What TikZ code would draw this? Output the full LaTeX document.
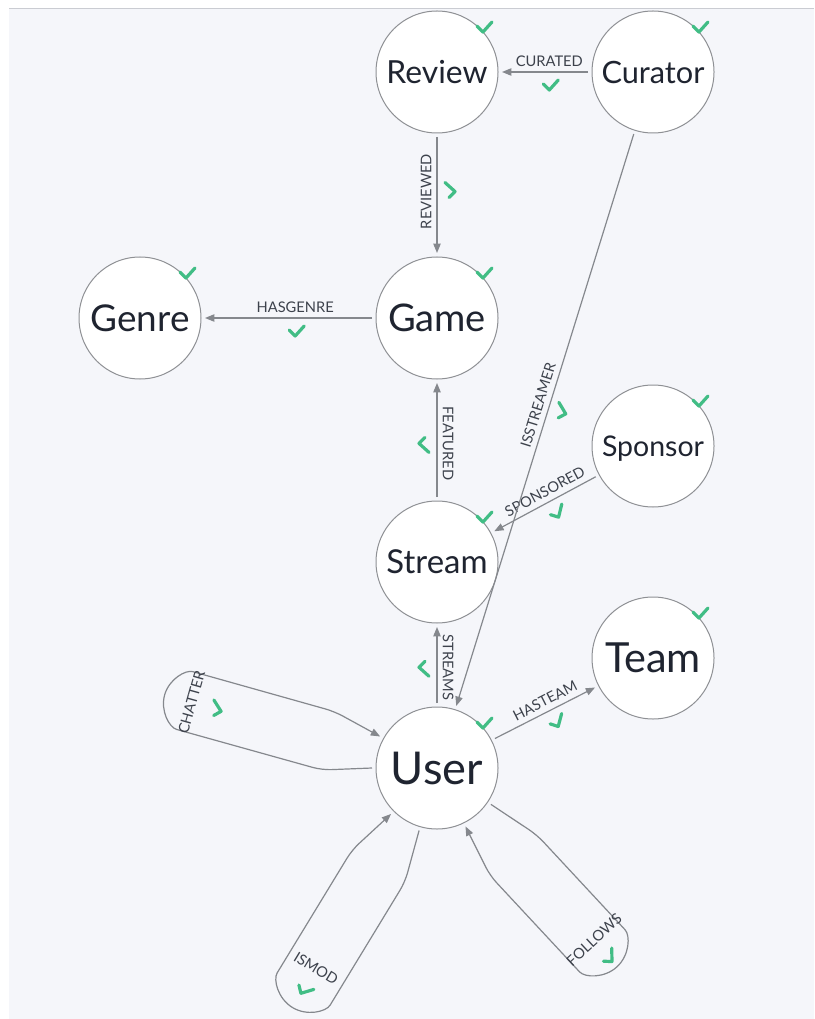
\documentclass[tikz,border=0pt]{standalone}
\usepackage{fontspec}
\setmainfont{Lato}
\usetikzlibrary{arrows.meta}
\definecolor{panelbg}{HTML}{F5F6FA}
\definecolor{panelrule}{HTML}{CACCD2}
\definecolor{rimgrey}{HTML}{8E9094}
\definecolor{edgegrey}{HTML}{85888D}
\definecolor{inkdark}{HTML}{1F2430}
\definecolor{labelgrey}{HTML}{3D424C}
\definecolor{tickgreen}{HTML}{41BD85}
% scale an entity name to the width it takes in its circle
\newcommand{\fitname}[2]{\resizebox{#1}{!}{\raisebox{0pt}[\height][0pt]{#2}}}
\tikzset{
% Graph model styles: entity circles, relationship arrows and their labels
entity node/.style={circle,draw=rimgrey,fill=white,line width=0.75pt,minimum size=91.5pt,inner sep=0pt,outer sep=3pt,text=inkdark},
rel edge/.style={draw=edgegrey,line width=0.9pt,-{Triangle[length=7pt,width=5.5pt]}},
rel label/.style={font=\fontsize{11}{13}\selectfont,text=labelgrey,inner sep=3.8pt},
pics/tick/.style={code={\draw[-,tickgreen,line width=2.4pt,line cap=round,line join=round] (-6,6) -- (0,0) -- (9,10);}}
}

\begin{document}
\begin{tikzpicture}[x=0.75pt,y=0.75pt]
      \useasboundingbox (0,0) rectangle (814,-1019);
      % background panel
      \fill[panelbg] (9,-9) rectangle (814,-1019);
      \draw[panelrule,line width=0.75pt] (9,-9) -- (814,-9);
      % The entities
      \node[entity node] (review) at (437,-72) {\fitname{75.75pt}{Review}};
      \node[entity node] (curator) at (653,-72) {\fitname{77.25pt}{Curator}};
      \node[entity node] (genre) at (140,-318) {\fitname{74.25pt}{Genre}};
      \node[entity node] (game) at (437,-318) {\fitname{73.5pt}{Game}};
      \node[entity node] (sponsor) at (653,-446) {\fitname{76.5pt}{Sponsor}};
      \node[entity node] (stream) at (437,-562) {\fitname{75.75pt}{Stream}};
      \node[entity node] (team) at (653,-658) {\fitname{72pt}{Team}};
      \node[entity node] (user) at (437,-768) {\fitname{69pt}{User}};
      % green ticks on the entities
      \foreach \n in {review,curator,genre,game,sponsor,stream,team,user}
        \pic[shift={(0,-6)}] at (\n.45) {tick};
      % Relationships
      \draw[rel edge] (curator) -- (review)
        node[rel label,pos=.45,above] (lcurated) {CURATED}
        pic[pos=.45,yshift=-13.5pt] {tick};
      \draw[rel edge] (review) -- (game)
        node[rel label,pos=.47,rotate=90,above] (lreviewed) {REVIEWED}
        pic[pos=.47,rotate=90,yshift=-13.5pt] {tick};
      \draw[rel edge] (game) -- (genre)
        node[rel label,pos=.46,above] (lhasgenre) {HASGENRE}
        pic[pos=.46,yshift=-13.5pt] {tick};
      \draw[rel edge] (stream) -- (game)
        node[rel label,pos=.47,rotate=-90,above] (lfeatured) {FEATURED}
        pic[pos=.47,rotate=-90,yshift=-13.5pt] {tick};
      \draw[rel edge] (sponsor) -- (stream)
        node[rel label,pos=.45,rotate=28.2,above] (lsponsored) {SPONSORED}
        pic[pos=.45,rotate=28.2,yshift=-13.5pt] {tick};
      \draw[rel edge] (curator) -- (user)
        node[rel label,pos=.48,rotate=72.8,above] (lisstreamer) {ISSTREAMER}
        pic[pos=.48,rotate=72.8,yshift=-13.5pt] {tick};
      \draw[rel edge] (user) -- (stream)
        node[rel label,pos=.47,rotate=-90,above] (lstreams) {STREAMS}
        pic[pos=.47,rotate=-90,yshift=-13.5pt] {tick};
      \draw[rel edge] (user) -- (team)
        node[rel label,pos=.55,rotate=27,above] (lhasteam) {HASTEAM}
        pic[pos=.55,rotate=27,yshift=-13.5pt] {tick};
      % self loops on User
      \draw[rel edge,rounded corners=7pt] (user.180) -- (322,-770) -- (185.4,-731.9)
        arc[start angle=254.3,end angle=74.3,radius=30] -- (334.5,-711.5) -- (user.151);
      \node[rel label,rotate=74.3] (lchatter) at (191.5,-702) {CHATTER};
      \pic[rotate=74.3,shift={(-1,-31)}] at (191.5,-702) {tick};
      \draw[rel edge,rounded corners=7pt] (user.254.6) -- (405,-882) -- (335,-997.1)
        arc[start angle=-31.3,end angle=-211.3,radius=31] -- (352,-850) -- (user.225);
      \node[rel label,rotate=-31.3] (lismod) at (316,-968.5) {ISMOD};
      \pic[rotate=-31.3,shift={(0,-29)}] at (316,-968.5) {tick};
      \draw[rel edge,rounded corners=7pt] (user.326.1) -- (537,-835) -- (618.7,-922.9)
        arc[start angle=42.9,end angle=-137.1,radius=31] -- (490,-875.6) -- (user.296.2);
      \node[rel label,rotate=42.9] (lfollows) at (594,-940) {FOLLOWS};
      \pic[rotate=42.9,shift={(-1.5,-28)}] at (594,-940) {tick};
\end{tikzpicture}
\end{document}
